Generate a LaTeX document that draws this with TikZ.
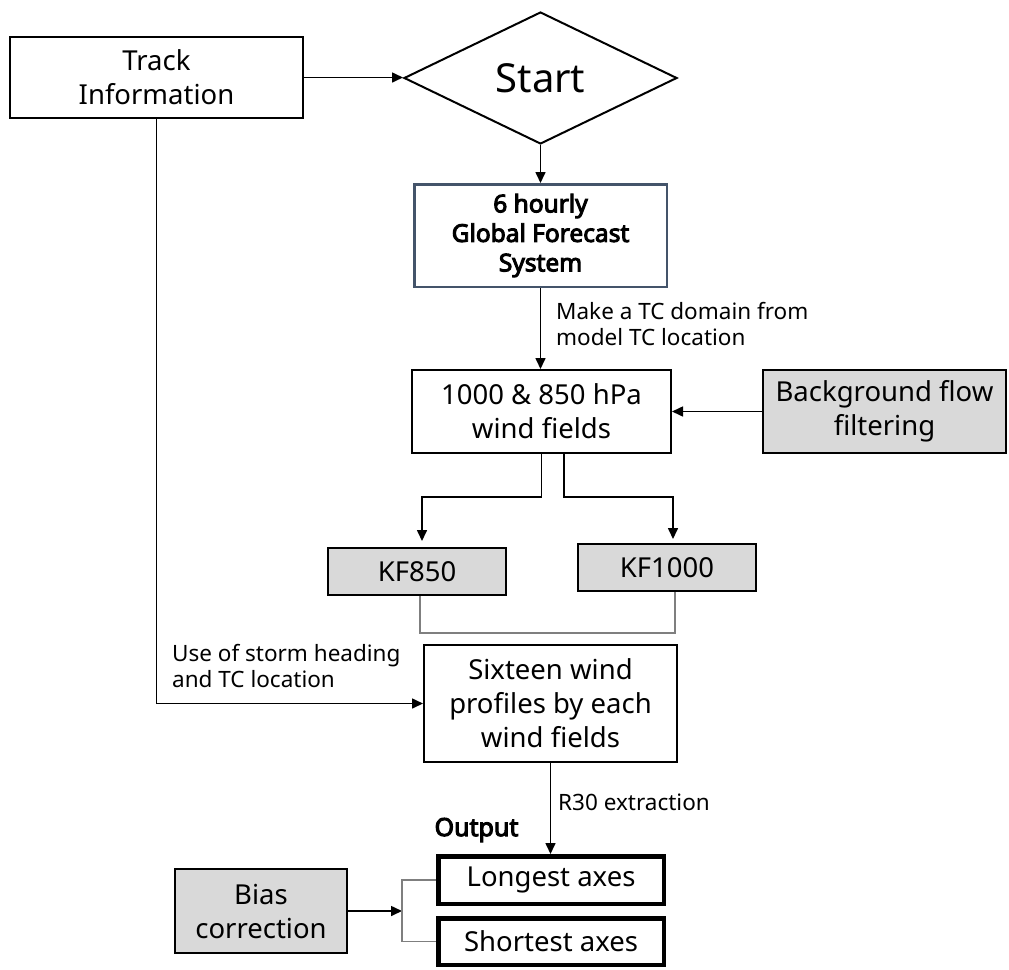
\documentclass[tikz,border=0pt]{standalone}
\usepackage{fontspec}
\setmainfont{Noto Sans}[AutoFakeBold=4]
\usetikzlibrary{arrows.meta,shapes.geometric}
\definecolor{boxgray}{HTML}{D9D9D9}
\definecolor{linegray}{HTML}{7F7F7F}
\definecolor{gfsblue}{HTML}{44546A}
\begin{document}
\begin{tikzpicture}[x=1pt,y=-1pt,
  box/.style={draw=black, line width=2pt, rectangle, inner sep=0pt, align=center, font=\fontsize{27.5}{34}\selectfont, text=black},
  gbox/.style={box, fill=boxgray},
  obox/.style={box, line width=4.5pt},
  arr/.style={draw=black, line width=1.6pt, -{Triangle[length=11pt,width=10pt]}},
  gline/.style={draw=linegray, line width=1.3pt},
  lbl/.style={font=\fontsize{22.5}{26}\selectfont, align=left, inner sep=0pt, text=black},
]
\useasboundingbox (0,0) rectangle (1009,969);

\node[box, minimum width=293, minimum height=81] (track) at (156.5,77.5) {Track\\Information};
\node[draw, diamond, line width=2pt, inner sep=0pt, aspect=2.05, minimum width=273, minimum height=132, font=\fontsize{40}{48}\selectfont] (start) at (540.5,78) {Start};
\draw[arr] (track.east) -- (track.east -| start.west);

\node[box, draw=gfsblue, line width=2.5pt, minimum width=252.5, minimum height=102.5, font=\bfseries\fontsize{24.5}{29.5}\selectfont] (gfs) at (540.5,235.5) {6 hourly\\Global Forecast\\System};
\draw[arr] (start.south) -- (gfs.north);

\node[box, minimum width=259, minimum height=83] (wind) at (541.5,411.5) {1000 \& 850 hPa\\wind fields};
\draw[arr] (gfs.south) -- (gfs.south |- wind.north);
\node[lbl, anchor=north west] (l1) at (556,302) {Make a TC domain from\\model TC location};

\node[gbox, minimum width=243, minimum height=83] (bg) at (884.5,411.5) {Background flow\\filtering};
\draw[arr] (bg.west) -- (wind.east);

\node[gbox, minimum width=178, minimum height=47] (kf850) at (417,571.5) {KF850};
\node[gbox, minimum width=178, minimum height=47] (kf1000) at (667,567.5) {KF1000};
\draw[arr, shorten >=6pt] (wind.south) -- ++(0,43) -| ([xshift=5pt]kf850.north);
\draw[arr, shorten >=4pt] ([xshift=22.5pt]wind.south) -- ++(0,43) -| ([xshift=6pt]kf1000.north);
\draw[gline] ([xshift=3pt]kf850.south) -- ++(0,37) -| ([xshift=8pt]kf1000.south);

\node[box, minimum width=253, minimum height=117] (six) at (550.5,703.5) {Sixteen wind\\profiles by each\\wind fields};
\draw[arr] (track.south) |- (six.west);
\node[lbl, anchor=north west] (l2) at (172,644) {Use of storm heading\\and TC location};

\node[obox, minimum width=225.5, minimum height=47.5] (longest) at (551,880) {Longest axes};
\node[obox, minimum width=225.5, minimum height=46.5] (shortest) at (551,941.5) {Shortest axes};
\draw[arr] (six.south) -- (six.south |- longest.north);
\node[lbl, anchor=west] (l3) at (558,802) {R30 extraction};
\node[font=\bfseries\fontsize{25}{30}\selectfont, inner sep=0pt] (out) at (476.5,830) {Output};

\node[gbox, minimum width=172, minimum height=84] (bias) at (261,911) {Bias\\correction};
\coordinate (brk) at (402,911);
\draw[arr] (bias.east) -- (brk);
\draw[gline] (longest.west) -| (brk) |- (shortest.west);
\end{tikzpicture}
\end{document}
